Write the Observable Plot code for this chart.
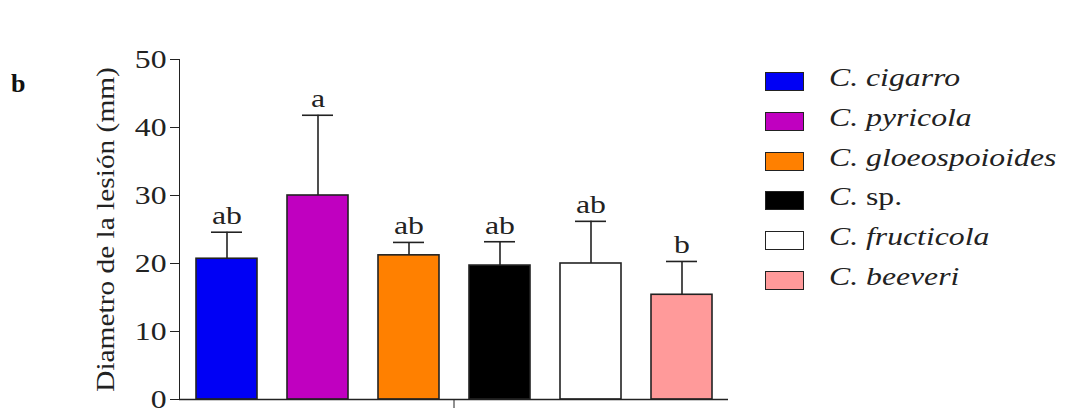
<!DOCTYPE html>
<html>
<head>
<meta charset="utf-8">
<script src="https://cdn.jsdelivr.net/npm/d3@7"></script>
<script src="https://cdn.jsdelivr.net/npm/@observablehq/plot@0.6"></script>
<style>
  html, body { margin: 0; padding: 0; background: #fff; }
  #wrap { position: relative; width: 1074px; height: 408px; overflow: hidden; font-family: "Liberation Serif", "Times New Roman", serif; color: #222; }
  #panel { position: absolute; left: 11px; top: 71px; font-size: 26px; line-height: 26px; font-weight: bold; color: #111; }
  .row { position: absolute; left: 765px; height: 20px; }
  .sw { position: absolute; left: 0; top: 0; width: 37px; height: 17px; border: 1.6px solid #222; }
  .lab { position: absolute; left: 64px; top: -14px; font-size: 26px; line-height: 40px; white-space: nowrap; transform: scaleX(1.22); transform-origin: left; }
  .lab i { font-style: italic; }
</style>
</head>
<body>
<div id="wrap"><div id="panel">b</div></div>
<script>
const species = ["C. cigarro", "C. pyricola", "C. gloeospoioides", "C. sp.", "C. fructicola", "C. beeveri"];
const means = [20.7, 30.0, 21.2, 19.7, 20.0, 15.4];
const sds = [3.9, 11.8, 1.9, 3.5, 6.2, 4.9];
const letters = ["ab", "a", "ab", "ab", "ab", "b"];
const colors = ["#0000f5", "#c000c0", "#ff8000", "#000000", "#ffffff", "#ff9a9a"];
const yTicks = [0, 10, 20, 30, 40, 50];
const yLabel = "Diametro de la lesión (mm)";

const data = species.map((s, i) => ({
  group: "g", species: s, mean: means[i], upper: means[i] + sds[i], letter: letters[i]
}));

const chart = Plot.plot({
  width: 1074, height: 408,
  marginLeft: 179, marginRight: 346, marginTop: 59, marginBottom: 9,
  style: {fontFamily: "'Liberation Serif', 'Times New Roman', serif", fontSize: "26px", color: "#222", background: "transparent"},
  fx: {padding: 0, axis: "bottom", tickSize: 9, tickFormat: () => "", label: null},
  x: {domain: species, paddingInner: 0.33, paddingOuter: 0.17, axis: null},
  y: {domain: [0, 50], ticks: yTicks, tickSize: 9, tickPadding: 4, label: yLabel, labelAnchor: "center", labelOffset: 84, labelArrow: "none", line: true},
  color: {domain: species, range: colors},
  marks: [
    Plot.ruleX(data, {fx: "group", x: "species", y1: "mean", y2: "upper", stroke: "#222", strokeWidth: 1.6}),
    Plot.tickY(data, {fx: "group", x: "species", y: "upper", stroke: "#222", strokeWidth: 1.6, insetLeft: 15, insetRight: 15}),
    Plot.barY(data, {fx: "group", x: "species", y: "mean", fill: "species", stroke: "#222", strokeWidth: 1.6}),
    Plot.text(data, {fx: "group", x: "species", y: "upper", text: "letter", lineAnchor: "bottom", dy: -8, fill: "#222"}),
    Plot.ruleY([0], {stroke: "#222", strokeWidth: 1.6})
  ]
});

const wrap = document.getElementById("wrap");
chart.style.position = "absolute";
chart.style.left = "0px";
chart.style.top = "0px";
wrap.appendChild(chart);

// widen glyphs horizontally like the reference
chart.querySelectorAll("text").forEach(t => {
  const w = t.getComputedTextLength();
  if (!w) return;
  const rotated = (t.getAttribute("transform") || "").includes("rotate") ||
                  (t.parentNode.getAttribute && (t.parentNode.getAttribute("transform") || "").includes("rotate"));
  t.setAttribute("textLength", w * (rotated ? 1.13 : 1.22));
  t.setAttribute("lengthAdjust", "spacingAndGlyphs");
});

// legend
species.forEach((s, i) => {
  const row = document.createElement("div");
  row.className = "row";
  row.style.top = (72 + i * 39.8) + "px";
  const sw = document.createElement("div");
  sw.className = "sw";
  sw.style.background = colors[i];
  const lab = document.createElement("div");
  lab.className = "lab";
  const [genus, epithet] = s.split(" ");
  lab.innerHTML = `<i>${genus}</i> ` + (epithet === "sp." ? epithet : `<i>${epithet}</i>`);
  row.appendChild(sw);
  row.appendChild(lab);
  wrap.appendChild(row);
});
</script>
</body>
</html>
